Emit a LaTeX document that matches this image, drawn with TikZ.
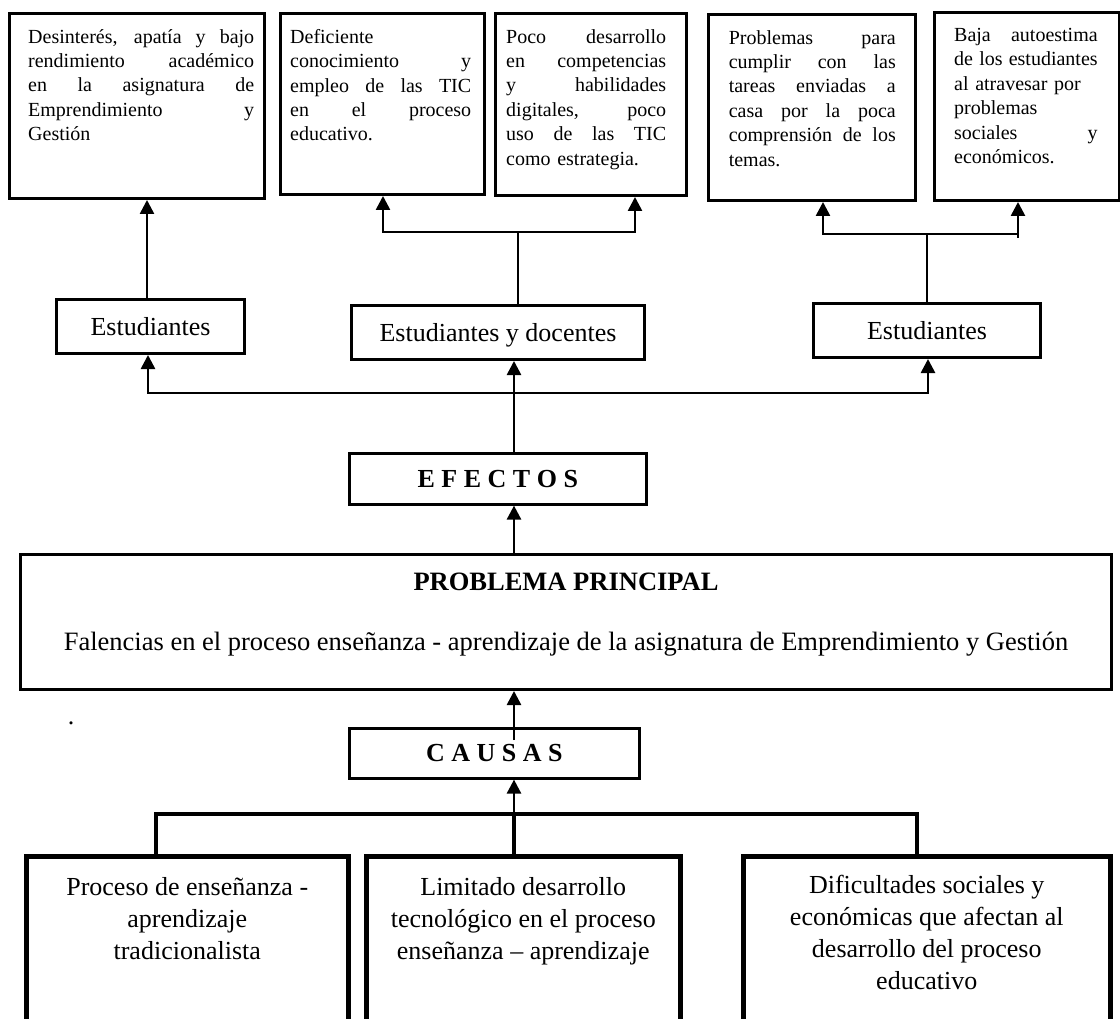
\documentclass[tikz,border=0pt]{standalone}
\usepackage{fontspec}
\setmainfont{Liberation Serif}
\usetikzlibrary{arrows.meta}
\setlength\parindent{0pt}
\newcommand\fsTop{\fontsize{20}{24.4}\selectfont}
\newcommand\fsBig{\fontsize{26}{32}\selectfont}
\newcommand\fsWide{\fontsize{26.5}{32}\selectfont}
% a line whose interword spaces stretch to fill #1 pt
\newcommand\jl[2]{\makebox[#1pt][s]{\spaceskip=0.25em plus 1fil\relax #2}}

\begin{document}
\begin{tikzpicture}[x=1pt,y=-1pt,
  box/.style={draw, line width=3pt, inner sep=0pt, anchor=north west},
  thinbox/.style={draw, line width=2.6pt, inner sep=0pt, anchor=north west},
  basebox/.style={draw, line width=4.5pt, inner sep=0pt, anchor=north west},
  toptext/.style={anchor=north west, inner sep=0pt, align=left, text width=#1pt, font=\fsTop},
  bigtext/.style={anchor=north, inner sep=0pt, align=center, font=\fsBig},
  label/.style={font=\fsBig, text depth=0pt},
  conn/.style={line width=2.6pt},
  arr/.style={conn, -{Triangle[width=14pt,length=14pt]}},
  heavy/.style={line width=4.4pt, line join=miter}]

\useasboundingbox (0,0) rectangle (1120,1019);
\clip (0,0) rectangle (1120,1019);
\fill[white] (0,0) rectangle (1120,1019);

% ---------- effects (top row) ----------
\node[box, minimum width=254.5pt, minimum height=185pt] (b1) at (8,12) {};
\node[box, minimum width=204.4pt, minimum height=181pt] (b2) at (278.6,12) {};
\node[box, minimum width=191.4pt, minimum height=182pt] (b3) at (493.6,12) {};
\node[box, minimum width=206.6pt, minimum height=186pt] (b4) at (707,13) {};
\node[box, minimum width=185pt, minimum height=188pt] (b5) at (933,11) {};

\node[toptext=226] (t1) at (28,29)
  {\jl{226}{Desinterés, apatía y bajo}\\\jl{226}{rendimiento académico}\\\jl{226}{en la asignatura de}\\\jl{226}{Emprendimiento y}\\Gestión};
\node[toptext=181] (t2) at (290,29)
  {Deficiente\\\jl{181}{conocimiento y}\\\jl{181}{empleo de las TIC}\\\jl{181}{en el proceso}\\educativo.};
\node[toptext=160] (t3) at (506,29)
  {\jl{160}{Poco desarrollo}\\\jl{160}{en competencias}\\\jl{160}{y habilidades}\\\jl{160}{digitales, poco}\\\jl{160}{uso de las TIC}\\como estrategia.};
\node[toptext=167] (t4) at (728.6,30)
  {\jl{167}{Problemas para}\\\jl{167}{cumplir con las}\\\jl{167}{tareas enviadas a}\\\jl{167}{casa por la poca}\\\jl{167}{comprensión de los}\\temas.};
\node[toptext=143.5] (t5) at (954,28)
  {\jl{143.5}{Baja autoestima}\\\jl{143.5}{de los estudiantes}\\al atravesar por\\problemas\\\jl{143.5}{sociales y}\\económicos.};

% ---------- groups ----------
\node[box, label, minimum width=188pt, minimum height=54pt] (estL) at (55,298) {Estudiantes};
\node[box, label, minimum width=293pt, minimum height=54pt] (estM) at (350,304) {Estudiantes y docentes};
\node[box, label, minimum width=227pt, minimum height=54pt] (estR) at (812,302) {Estudiantes};

% ---------- headings and main problem ----------
\node[thinbox, label, font=\fsBig\bfseries, minimum width=297pt, minimum height=51pt] (efe) at (348,452) {E F E C T O S};
\node[box, minimum width=1091pt, minimum height=135pt] (prob) at (19,553) {};
\node[font=\fsWide\bfseries, anchor=base, inner sep=0pt] (probT) at ([yshift=-37pt]prob.north) {PROBLEMA PRINCIPAL};
\node[font=\fsWide, anchor=base, inner sep=0pt] (probD) at ([yshift=-97pt]prob.north)
  {Falencias en el proceso enseñanza - aprendizaje de la asignatura de Emprendimiento y Gestión};
\node[font=\fsBig, anchor=base, inner sep=0pt] (dot) at (71,724) {.};
\node[thinbox, label, font=\fsBig\bfseries, minimum width=290pt, minimum height=50pt] (cau) at (348,727) {C A U S A S};

% ---------- causes (bottom row) ----------
\node[basebox, minimum width=322pt, minimum height=220pt] (bA) at (24,854) {};
\node[basebox, minimum width=314pt, minimum height=220pt] (bB) at (364,854) {};
\node[basebox, minimum width=367pt, minimum height=220pt] (bC) at (741,854) {};
\node[bigtext] (tA) at ([yshift=-23pt]bA.north) {Proceso de enseñanza -\\aprendizaje\\tradicionalista};
\node[bigtext] (tB) at ([yshift=-23pt]bB.north) {Limitado desarrollo\\tecnológico en el proceso\\enseñanza – aprendizaje};
\node[bigtext] (tC) at ([yshift=-21pt]bC.north) {Dificultades sociales y\\económicas que afectan al\\desarrollo del proceso\\educativo};

% ---------- connectors: causes ----------
\coordinate (barL) at (156,814);
\coordinate (barM) at (514,814);
\coordinate (barR) at (917,814);
\draw[heavy] (barL |- bA.north) -- (barL) -- (barR) -- (barR |- bC.north);
\draw[heavy] (barM) -- (barM |- bB.north);
\draw[arr] (barM) -- (barM |- cau.south);
\draw[arr] (barM |- cau.north) ++(0,13) -- (barM |- prob.south);
\draw[arr] (barM |- prob.north) -- (barM |- efe.south);
\draw[arr] (barM |- efe.north) -- (barM |- estM.south);

% ---------- connectors: effects ----------
\coordinate (dL) at (148,393);
\coordinate (dR) at (928,393);
\draw[arr] (barM |- dL) -- (dL) -- (dL |- estL.south);
\draw[arr] (barM |- dR) -- (dR) -- (dR |- estR.south);

\coordinate (uL) at (147,0);
\draw[arr] (uL |- estL.north) -- (uL |- b1.south);

\coordinate (jM) at (518,232);
\coordinate (aM2) at (383,232);
\coordinate (aM3) at (635,232);
\draw[conn] (jM |- estM.north) -- (jM);
\draw[arr] (jM) -- (aM2) -- (aM2 |- b2.south);
\draw[arr] (jM) -- (aM3) -- (aM3 |- b3.south);

\coordinate (jR) at (927,234);
\coordinate (aR4) at (823,234);
\coordinate (aR5) at (1018,234);
\draw[conn] (jR |- estR.north) -- (jR);
\draw[arr] (jR) -- (aR4) -- (aR4 |- b4.south);
\draw[arr] (jR) -- (aR5) -- (aR5 |- b5.south);
\draw[conn] (aR5) -- ++(0,4);
\end{tikzpicture}
\end{document}
